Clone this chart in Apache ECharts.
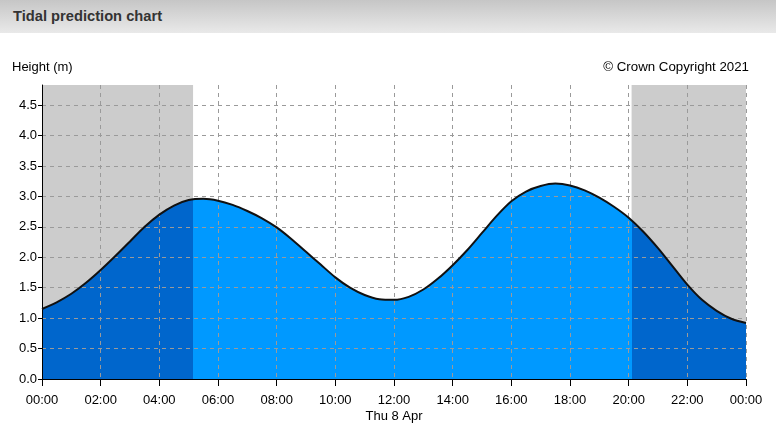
<!DOCTYPE html>
<html>
<head>
<meta charset="utf-8">
<script src="https://cdn.jsdelivr.net/npm/echarts@6/dist/echarts.min.js"></script>
<style>
  html, body { margin: 0; padding: 0; background: #fff; }
  #hdr { position: absolute; left: 0; top: 0; width: 776px; height: 33px;
         background: linear-gradient(#c6c6c6, #e9e9e9); }
  #hdr span { position: absolute; left: 13px; top: 8px; font: bold 14.7px "Liberation Sans", Arial, sans-serif; color: #333; }
  #chart { position: absolute; left: 0; top: 0; width: 776px; height: 433px; }
</style>
</head>
<body>
<div id="hdr"><span>Tidal prediction chart</span></div>
<div id="chart"></div>
<script>
// Hours since midnight, Thu 8 Apr (half-hourly)
const hours = [0,0.5,1,1.5,2,2.5,3,3.5,4,4.5,5,5.5,6,6.5,7,7.5,8,8.5,9,9.5,10,10.5,11,11.5,12,
               12.5,13,13.5,14,14.5,15,15.5,16,16.5,17,17.5,18,18.5,19,19.5,20,20.5,21,21.5,22,22.5,23,23.5,24];
// Predicted height (m)
const heights = [1.15,1.26,1.40,1.58,1.79,2.02,2.26,2.50,2.70,2.85,2.94,2.96,2.93,2.86,2.76,2.64,2.49,2.30,2.09,1.88,1.67,1.50,1.38,1.31,1.30,
                 1.35,1.47,1.65,1.87,2.12,2.40,2.68,2.92,3.08,3.17,3.21,3.18,3.10,2.98,2.83,2.65,2.42,2.15,1.85,1.55,1.30,1.12,0.99,0.92];
// Night periods (hours)
const nightRanges = [[0, 5.15], [20.1, 24]];
const yTicks = [0,0.5,1,1.5,2,2.5,3,3.5,4,4.5];
const xTickLabels = ['00:00','02:00','04:00','06:00','08:00','10:00','12:00\nThu 8 Apr','14:00','16:00','18:00','20:00','22:00','00:00'];

const data = hours.map((h, i) => [h, heights[i]]);
const font = '"Liberation Sans", Arial, sans-serif';

const chart = echarts.init(document.getElementById('chart'));
chart.setOption({
  animation: false,
  backgroundColor: 'transparent',
  grid: { left: 42, right: 30, top: 85, bottom: 54, containLabel: false },
  graphic: [
    { type: 'text', left: 12, top: 61, style: { text: 'Height (m)', font: '13px ' + font, fill: '#000' } },
    { type: 'text', right: 27, top: 61, style: { text: '\u00A9 Crown Copyright 2021', font: '13.3px ' + font, fill: '#000' } }
  ],
  xAxis: {
    type: 'value', min: 0, max: 24, interval: 2, z: 4,
    axisLine: { show: true, onZero: false, lineStyle: { color: '#000', width: 1 } },
    axisTick: { show: true, length: 7, lineStyle: { color: '#000' } },
    axisLabel: { color: '#000', fontSize: 13, fontFamily: font, margin: 13, lineHeight: 16,
      formatter: v => xTickLabels[Math.round(v / 2)] },
    splitLine: { show: true, lineStyle: { color: '#9a9a9a', type: [4, 4], width: 1 } }
  },
  yAxis: {
    type: 'value', min: 0, max: 4.83, interval: 0.5, z: 4,
    axisLine: { show: true, lineStyle: { color: '#000', width: 1 } },
    axisTick: { show: true, length: 4, customValues: yTicks, lineStyle: { color: '#000' } },
    axisLabel: { color: '#000', fontSize: 13, fontFamily: font, margin: 5,
      customValues: yTicks, formatter: v => v.toFixed(1) },
    splitLine: { show: true, lineStyle: { color: '#9a9a9a', type: [4, 4], width: 1 } }
  },
  visualMap: {
    type: 'piecewise', show: false, dimension: 0, seriesIndex: 1,
    pieces: [
      { lt: nightRanges[0][1], color: '#0066cc' },
      { gte: nightRanges[0][1], lt: nightRanges[1][0], color: '#0099ff' },
      { gte: nightRanges[1][0], color: '#0066cc' }
    ]
  },
  series: [
    {
      type: 'line', data: data, z: 1, silent: true, symbol: 'none',
      lineStyle: { opacity: 0 },
      markArea: {
        silent: true,
        itemStyle: { color: '#cccccc' },
        data: nightRanges.map(r => [{ xAxis: r[0] }, { xAxis: r[1] }])
      }
    },
    {
      type: 'line', data: data, z: 2, silent: true, symbol: 'none', smooth: 0.3,
      lineStyle: { width: 0 },
      areaStyle: { opacity: 1 }
    },
    {
      type: 'line', data: data, z: 5, silent: true, symbol: 'none', smooth: 0.3,
      lineStyle: { color: '#111', width: 2 }
    }
  ]
});
</script>
</body>
</html>
